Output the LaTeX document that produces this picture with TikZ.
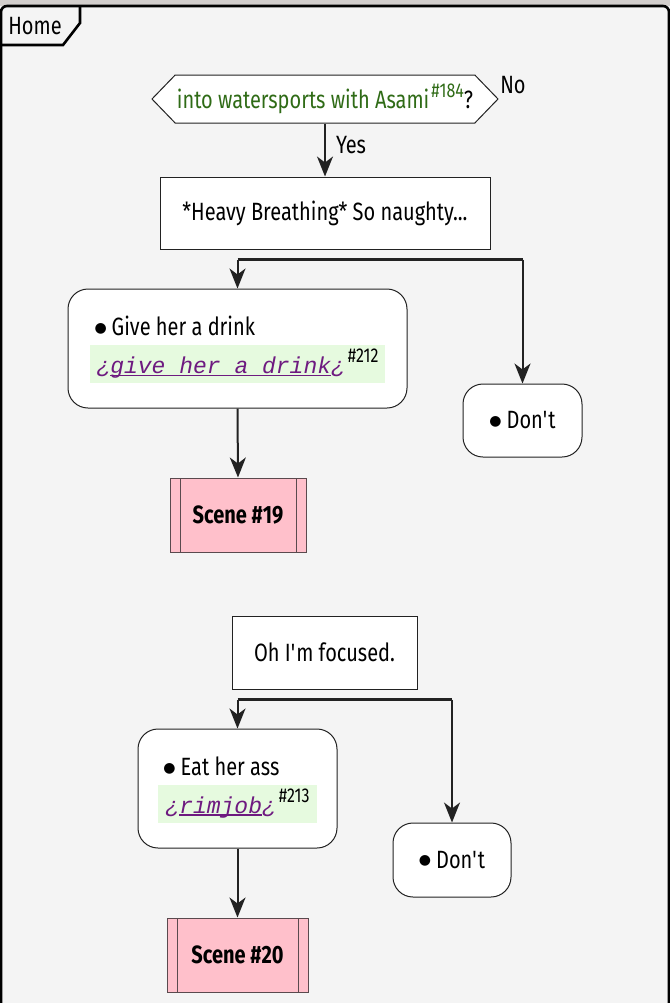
\documentclass[tikz,border=0pt]{standalone}
\usepackage{fontspec}
\setmainfont{Fira Sans}[FakeStretch=0.8]
\newfontfamily\tagfont{Liberation Mono}
\newfontfamily\dotfont{DejaVu Sans}
\usetikzlibrary{arrows.meta, calc, positioning, shapes.symbols}
\definecolor{pageBg}{HTML}{F4F4F4}
\definecolor{stripGrey}{HTML}{D2CECC}
\definecolor{lineDark}{HTML}{222222}
\definecolor{decGreen}{HTML}{2F6B16}
\definecolor{tagPurple}{HTML}{6E1A80}
\definecolor{tagBg}{HTML}{E6FADF}
\definecolor{scenePink}{HTML}{FFC0CB}
\definecolor{sceneLine}{HTML}{5A4A4E}
\newsavebox{\tagBox}
\newcommand{\tagLine}[1]{\sbox{\tagBox}{#1}\rlap{\rule[-1.2pt]{\wd\tagBox}{0.7pt}}\usebox{\tagBox}}
\newcommand{\refNo}[1]{\raisebox{5.5pt}{\fontsize{10}{10}\selectfont\##1}}
\newcommand{\choiceTag}[2]{{\tagfont\fontsize{11.5}{13}\selectfont\itshape\color{tagPurple}¿\tagLine{#1}¿}\hspace{1.5pt}\refNo{#2}}
\newcommand{\itemDot}{\raisebox{1.8pt}{\dotfont\fontsize{7}{7}\selectfont ●}\hspace{2.5pt}}

\begin{document}
\begin{tikzpicture} [
        x=0.5pt, y=-0.5pt,
        txt/.style={font=\fontsize{12.5}{14}\selectfont},
        label/.style={txt, inner sep=0pt},
        frame/.style={draw=black, line width=1.3pt, rounded corners=3pt},
        flow/.style={draw=lineDark, line width=1pt, -{Stealth[length=10pt, width=8pt, inset=3pt]}},
        bar/.style={draw=lineDark, line width=1.5pt},
        box/.style={draw=lineDark, line width=0.5pt, fill=white, inner sep=0pt, txt},
        action/.style={box, rounded corners=10pt},
        decision/.style={box, shape=signal, signal to=east and west, signal pointer angle=92, text=decGreen},
        scene/.style={box, draw=sceneLine, fill=scenePink, font=\fontsize{12.5}{14}\selectfont\bfseries,
            path picture={\draw[sceneLine, line width=0.5pt]
                ([xshift=5pt]path picture bounding box.north west) -- ([xshift=5pt]path picture bounding box.south west)
                ([xshift=-5pt]path picture bounding box.north east) -- ([xshift=-5pt]path picture bounding box.south east);}},
        item/.style={label, anchor=west},
        tag/.style={fill=tagBg, inner xsep=3.5pt, inner ysep=0pt, minimum height=19pt, txt},
    ]

    \useasboundingbox (0,0) rectangle (670,1003);
    \fill[stripGrey] (0,0) rectangle (670,6);
    \fill[pageBg] (0,6) rectangle (670,1003);

    % frame with its tab
    \draw[frame] (1,1015) -- (1,6) -- (669,6) -- (669,1015);
    \draw[frame, rounded corners=0pt] (1,45) -- (63,45) -- (80,23) -- (80,6);
    \node[label] (home) at (35,26) {Home};

    % first choice
    \node[decision, minimum width=173pt, minimum height=24pt] (asami) at (325,99)
        {into watersports with Asami\hspace{1pt}\refNo{184}{\color{black}?}};
    \node[label] (no) at (513,85) {No};
    \node[box, minimum width=165pt, minimum height=36pt] (heavy) at (325,213) {*Heavy Breathing* So naughty...};
    \draw[flow] (asami.south) -- (heavy.north) node[label, pos=0.4, right=5pt] (yes) {Yes};
    \coordinate (split1) at ($(heavy.south)+(0,10)$);

    \node[action, minimum width=169.5pt, minimum height=59.5pt] (drink) at (237.5,348.5) {};
    \node[tag] (drink tag) at ($(drink.center)+(0,15.5)$) {\choiceTag{give her a drink}{212}};
    \node[item] (drink item) at ($(drink tag.west)+(5,-38)$) {\itemDot Give her a drink};
    \node[scene, minimum width=68pt, minimum height=37pt] (scene19) at (238,515) {Scene \#19};
    \node[action, minimum width=59.5pt, minimum height=36.5pt] (dont1) at (522.5,420.5) {\itemDot Don\textquotesingle t};

    \draw[bar] (split1 -| drink.north) -- (split1 -| dont1.north);
    \draw[flow] (split1 -| drink.north) -- (drink.north);
    \draw[flow] (split1 -| dont1.north) -- (dont1.north);
    \draw[flow] (drink.south) -- (scene19.north);

    % second choice
    \node[box, minimum width=92.5pt, minimum height=36.5pt] (focused) at (324.5,652.5) {Oh I\textquotesingle m focused.};
    \coordinate (split2) at ($(focused.south)+(0,10)$);

    \node[action, minimum width=99.5pt, minimum height=59.5pt] (rim) at (237.5,788.5) {};
    \node[tag] (rim tag) at ($(rim.center)+(0,15)$) {\choiceTag{rimjob}{213}};
    \node[item] (rim item) at ($(rim tag.west)+(5,-37)$) {\itemDot Eat her ass};
    \node[scene, minimum width=70.5pt, minimum height=37pt] (scene20) at (237.5,955) {Scene \#20};
    \node[action, minimum width=59pt, minimum height=37pt] (dont2) at (452,860) {\itemDot Don\textquotesingle t};

    \draw[bar] (split2 -| rim.north) -- (split2 -| dont2.north);
    \draw[flow] (split2 -| rim.north) -- (rim.north);
    \draw[flow] (split2 -| dont2.north) -- (dont2.north);
    \draw[flow] (rim.south) -- (scene20.north);

\end{tikzpicture}
\end{document}
